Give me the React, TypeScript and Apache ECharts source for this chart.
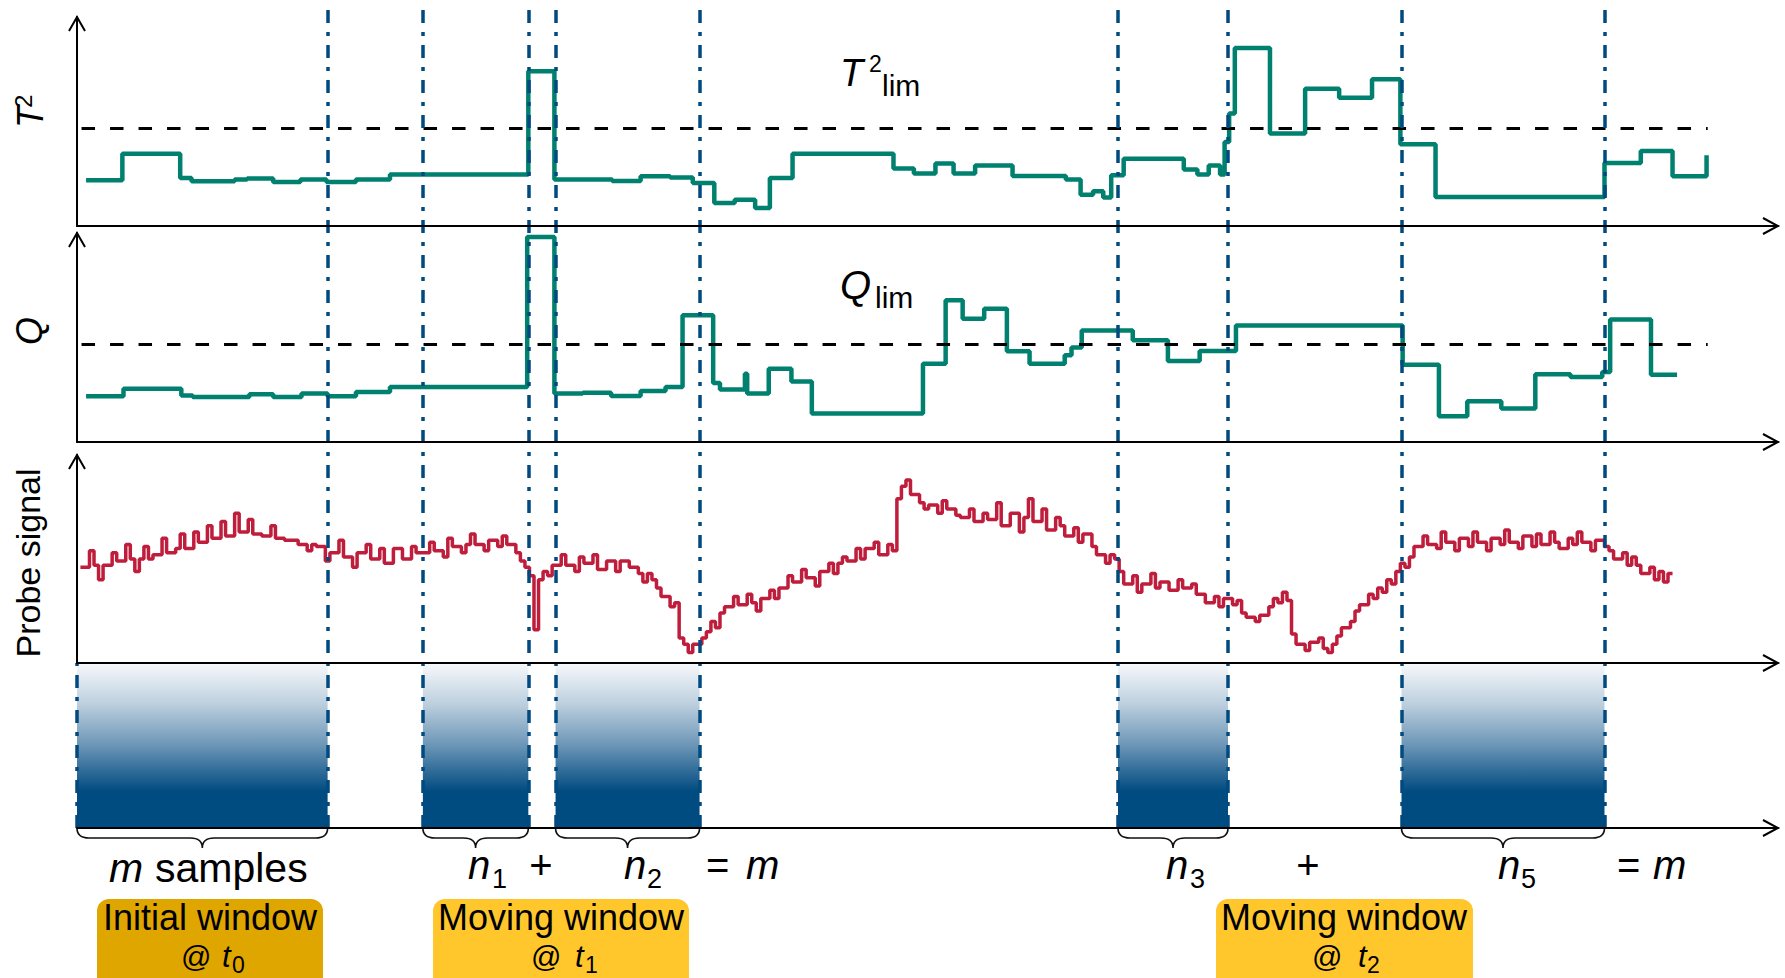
import React, { useEffect, useRef } from "react";
import * as echarts from "echarts";

const W = 1785;
const H = 978;
const X_MAX = 1500;

// Hotelling T² statistic: sample index where each new value starts, and the value
const t2Times = [8, 40, 91, 101, 139, 150, 173, 197, 220, 246, 276, 398, 421, 472, 497, 523, 543, 562, 580, 598, 611, 631, 720, 738, 757, 773, 792, 825, 872, 885, 896, 905, 912, 923, 976, 988, 998, 1008, 1012, 1016, 1021, 1052, 1083, 1113, 1142, 1167, 1198, 1347, 1379, 1407, 1437];
const t2Values = [21.9, 34.6, 23.0, 21.4, 22.2, 22.7, 21.1, 22.3, 21.1, 22.3, 24.7, 74.0, 22.3, 21.5, 23.8, 23.2, 20.6, 11.0, 12.6, 8.6, 23.0, 34.6, 27.5, 25.1, 29.9, 25.1, 29.0, 23.9, 22.3, 15.0, 16.6, 13.6, 24.3, 32.2, 27.0, 24.7, 29.0, 24.7, 40.2, 53.8, 85.2, 44.2, 65.7, 61.4, 70.2, 39.1, 13.9, 30.1, 35.9, 23.8, 33.8];
const t2Limit = 46.6;

// Q (squared prediction error) statistic
const qTimes = [8, 41, 92, 102, 152, 173, 198, 221, 246, 276, 397, 421, 446, 471, 497, 519, 534, 561, 567, 589, 591, 610, 630, 648, 746, 766, 781, 800, 820, 840, 871, 877, 886, 931, 962, 990, 1022, 1169, 1201, 1226, 1256, 1286, 1317, 1345, 1352, 1388, 1411];
const qValues = [21.9, 25.5, 22.3, 21.5, 22.8, 21.5, 23.2, 21.9, 23.9, 26.3, 98.1, 23.2, 23.6, 22.0, 24.4, 26.3, 60.6, 28.2, 25.1, 32.7, 23.2, 35.1, 29.0, 13.6, 37.5, 67.8, 59.0, 63.8, 43.4, 37.5, 41.5, 45.2, 53.4, 48.7, 38.8, 43.5, 55.8, 37.0, 12.3, 19.5, 16.0, 32.4, 31.1, 33.5, 58.6, 32.2, 32.2];
const qLimit = 46.6;

// span of the control-limit lines (sample index)
const limitSpan = [4, 1438];

// probe signal, one reading every probeStep samples from probeStart
const probeStart = 3;
const probeStep = 4;
const probeValues = [
  46, 46, 54, 47, 40, 47, 47, 53,
  49, 49, 57, 50, 44, 50, 56, 50,
  52, 52, 60, 53, 53,
  55, 62, 55, 55, 63,
  58, 58, 66, 60, 60, 68, 61, 61, 72, 63, 63, 69, 62, 62,
  61, 61, 66, 60, 60, 59,
  59, 59, 57, 57, 54, 57,
  56, 56, 49, 53, 53, 59, 51, 51, 46, 53, 53, 57, 50, 50, 55, 48, 48, 55, 55, 50, 50, 56, 53,
  53, 53, 58, 54, 54, 51, 60, 56, 56, 53, 57, 62, 57, 57, 54, 59, 59, 56, 61, 57, 57, 53,
  49, 46, 42,
  16,
  40, 44, 42,
  47, 47, 52, 47, 47, 44, 51, 48, 48, 52, 45, 45, 49, 49, 44, 49, 49, 46, 46,
  43, 39, 43, 40,
  36, 32, 32, 27, 29,
  12, 9, 5, 9, 9, 12,
  15, 20, 17, 24,
  27, 27, 32, 28, 28, 33, 29, 25, 31, 31, 35, 31,
  36, 36, 42, 39, 39, 45, 41, 41, 37, 44, 44, 48, 43,
  48, 51, 49, 49,
  55, 50, 55, 55, 58, 52, 52, 57, 54,
  79,
  85, 88, 81, 81, 77, 74,
  76, 76, 72, 78, 74, 74, 71,
  70, 70, 74, 68, 68, 72,
  69, 69, 77, 66, 66, 72, 72, 63, 70, 79, 68, 68, 74, 64, 64, 70,
  66, 61, 61, 65, 58, 62, 62,
  56, 52, 52, 48, 52, 50,
  44, 38, 38, 42, 34, 38, 38, 43, 36,
  39, 39, 35, 35, 40, 36, 36, 38,
  33, 33, 29, 29, 32, 27, 31, 31, 28, 30,
  24, 22, 22, 20, 23, 23,
  27, 31, 29, 34, 30,
  14, 9, 9, 6, 10, 10, 12, 7, 5, 9,
  13, 17, 17, 20,
  25, 28, 28, 33, 31, 36, 34, 40, 38,
  44, 48, 46, 51,
  56, 56, 61, 57, 57, 55, 63, 58, 58, 54, 60, 60, 56, 63, 58, 58, 54, 60, 60, 57,
  64, 58, 58, 55, 61, 61, 56, 62, 57, 57, 63, 58, 55, 55, 60, 57, 63, 58, 58, 54,
  59, 59, 56,
  54, 50, 50, 53, 47, 51,
  47, 43, 43, 46, 40, 44, 39, 43, 43,
];

// data windows used for the PCA model: [first sample, last sample]
const windows = [
  [0, 221],
  [305, 398],
  [422, 549],
  [918, 1015],
  [1168, 1347],
];

const TEAL = "#00806E";
const CRIMSON = "#BE1E3C";
const NAVY = "#004A7F";
const FONT = '"Liberation Sans", Arial, Helvetica, sans-serif';

const GRID_L = 77;
const GRID_R = 7;
const panels = [
  { top: 17, height: 209 }, // T²
  { top: 233, height: 209 }, // Q
  { top: 455, height: 208 }, // probe signal
  { top: 663, height: 165 }, // windows
  { top: 8, height: 820 }, // overlay for window boundaries
];

function txt(text: string, x: number, base: number, size: number, italic = false, align = "left") {
  return {
    type: "text",
    x,
    y: base - 0.35 * size,
    z: 100,
    silent: true,
    style: {
      text,
      fontSize: size,
      fontFamily: FONT,
      fontStyle: italic ? "italic" : "normal",
      fill: "#000",
      align,
      verticalAlign: "middle",
    },
  };
}

function chevronUp(x: number, y: number) {
  return {
    type: "polyline",
    z: 100,
    silent: true,
    shape: { points: [[x - 8, y + 14], [x, y], [x + 8, y + 14]] },
    style: { stroke: "#000", lineWidth: 2, fill: "none" },
  };
}

function chevronRight(x: number, y: number) {
  return {
    type: "polyline",
    z: 100,
    silent: true,
    shape: { points: [[x - 15, y - 8], [x, y], [x - 15, y + 8]] },
    style: { stroke: "#000", lineWidth: 2, fill: "none" },
  };
}

const windowGradient = {
  type: "linear",
  x: 0,
  y: 0,
  x2: 0,
  y2: 1,
  colorStops: [
    { offset: 0, color: "#f7f9fb" },
    { offset: 0.25, color: "#bccfde" },
    { offset: 0.5, color: "#6b95b6" },
    { offset: 0.78, color: "#004b80" },
    { offset: 1, color: "#004b80" },
  ],
};

export default function App() {
  const ref = useRef<HTMLDivElement>(null);

  useEffect(() => {
    if (!ref.current) return;
    const chart = echarts.init(ref.current, null, { renderer: "svg" });

    const xRight = W - GRID_R;
    const edges = windows.flat().filter((v) => v > 0);

    const dashDot = { color: NAVY, width: 3.5, type: [13, 9, 4, 9] };

    const graphic: any[] = [];
    // axis arrowheads
    for (let i = 0; i < 3; i++) {
      graphic.push(chevronUp(GRID_L, panels[i].top));
      graphic.push(chevronRight(xRight, panels[i].top + panels[i].height));
    }
    graphic.push(chevronRight(xRight, panels[3].top + panels[3].height));

    // y-axis titles
    graphic.push({
      type: "group",
      x: 30,
      y: 114,
      rotation: Math.PI / 2,
      children: [txt("T", -14, 12.6, 36, true), txt("2", 6, 2, 24)],
    });
    graphic.push({
      type: "group",
      x: 29,
      y: 331,
      rotation: Math.PI / 2,
      children: [txt("Q", 0, 12.6, 36, true, "center")],
    });
    graphic.push({
      type: "group",
      x: 28,
      y: 563,
      rotation: Math.PI / 2,
      children: [txt("Probe signal", 0, 11.9, 34, false, "center")],
    });

    // control-limit labels
    graphic.push(txt("T", 840, 86, 38, true), txt("2", 869, 72, 23), txt("lim", 882, 96, 30));
    graphic.push(txt("Q", 840, 299, 40, true), txt("lim", 875, 308, 30));

    // window size annotations
    graphic.push(txt("m", 109, 882, 41, true), txt("samples", 155, 882, 41));
    graphic.push(txt("n", 468, 879, 40, true), txt("1", 492, 888, 27));
    graphic.push(txt("+", 541, 879, 40, false, "center"));
    graphic.push(txt("n", 624, 879, 40, true), txt("2", 647, 888, 27));
    graphic.push(txt("=", 706, 879, 40), txt("m", 746, 879, 40, true));
    graphic.push(txt("n", 1166, 879, 40, true), txt("3", 1190, 888, 27));
    graphic.push(txt("+", 1308, 879, 40, false, "center"));
    graphic.push(txt("n", 1498, 879, 40, true), txt("5", 1521, 888, 27));
    graphic.push(txt("=", 1617, 879, 40), txt("m", 1653, 879, 40, true));

    // window tags
    const tag = (x: number, w: number, color: string) => ({
      type: "rect",
      z: 90,
      silent: true,
      shape: { x, y: 899, width: w, height: 100, r: [12, 12, 0, 0] },
      style: { fill: color },
    });
    graphic.push(tag(97, 226, "#E0A600"), tag(433, 256, "#FFC72C"), tag(1216, 257, "#FFC72C"));
    graphic.push(txt("Initial window", 210, 930, 36, false, "center"));
    graphic.push(txt("@", 181, 967, 30), txt("t", 222, 967, 31, true), txt("0", 232, 973, 23));
    graphic.push(txt("Moving window", 561, 930, 36, false, "center"));
    graphic.push(txt("@", 531, 967, 30), txt("t", 575, 967, 31, true), txt("1", 585, 973, 23));
    graphic.push(txt("Moving window", 1344, 930, 36, false, "center"));
    graphic.push(txt("@", 1312, 967, 30), txt("t", 1358, 967, 31, true), txt("2", 1367, 973, 23));

    const axisLineStyle = { color: "#000", width: 2 };

    const xAxis = panels.map((_, i) => ({
      type: "value",
      gridIndex: i,
      min: 0,
      max: X_MAX,
      show: i < 4,
      z: 5,
      axisLine: { show: i < 4, onZero: false, lineStyle: axisLineStyle },
      axisTick: { show: false },
      axisLabel: { show: false },
      splitLine: { show: false },
    }));
    const yAxis = panels.map((_, i) => ({
      type: "value",
      gridIndex: i,
      min: 0,
      max: 100,
      show: i < 3,
      z: 5,
      axisLine: { show: i < 3, onZero: false, lineStyle: axisLineStyle },
      axisTick: { show: false },
      axisLabel: { show: false },
      splitLine: { show: false },
    }));

    const limitLine = (idx: number, value: number) => ({
      type: "line",
      xAxisIndex: idx,
      yAxisIndex: idx,
      symbol: "none",
      silent: true,
      z: 4,
      data: [
        [limitSpan[0], value],
        [limitSpan[1], value],
      ],
      lineStyle: { color: "#000", width: 3, type: [13.5, 15] },
    });

    const option: any = {
      animation: false,
      backgroundColor: "#fff",
      grid: panels.map((p) => ({ left: GRID_L, right: GRID_R, top: p.top, height: p.height })),
      xAxis,
      yAxis,
      graphic,
      series: [
        {
          type: "line",
          name: "T2",
          xAxisIndex: 0,
          yAxisIndex: 0,
          step: "end",
          symbol: "none",
          silent: true,
          z: 3,
          data: t2Times.map((t, i) => [t, t2Values[i]]),
          lineStyle: { color: TEAL, width: 4.5 },
        },
        limitLine(0, t2Limit),
        {
          type: "line",
          name: "Q",
          xAxisIndex: 1,
          yAxisIndex: 1,
          step: "end",
          symbol: "none",
          silent: true,
          z: 3,
          data: qTimes.map((t, i) => [t, qValues[i]]),
          lineStyle: { color: TEAL, width: 4.5 },
        },
        limitLine(1, qLimit),
        {
          type: "line",
          name: "Probe signal",
          xAxisIndex: 2,
          yAxisIndex: 2,
          step: "end",
          symbol: "none",
          silent: true,
          z: 3,
          data: probeValues.map((v, i) => [probeStart + i * probeStep, v]),
          lineStyle: { color: CRIMSON, width: 3.5 },
        },
        {
          type: "custom",
          name: "Windows",
          xAxisIndex: 3,
          yAxisIndex: 3,
          silent: true,
          z: 1,
          data: windows,
          renderItem: (params: any, api: any) => {
            const x0 = api.coord([api.value(0), 0])[0];
            const x1 = api.coord([api.value(1), 0])[0];
            const cs = params.coordSys;
            const yb = cs.y + cs.height;
            const ym = yb + 10;
            const yt = yb + 20;
            const xm = (x0 + x1) / 2;
            const d =
              `M${x0} ${yb} Q${x0} ${ym} ${x0 + 12} ${ym} L${xm - 12} ${ym} ` +
              `Q${xm} ${ym} ${xm} ${yt} Q${xm} ${ym} ${xm + 12} ${ym} ` +
              `L${x1 - 12} ${ym} Q${x1} ${ym} ${x1} ${yb}`;
            return {
              type: "group",
              children: [
                {
                  type: "rect",
                  shape: { x: x0, y: cs.y, width: x1 - x0, height: cs.height },
                  style: { fill: windowGradient },
                },
                {
                  type: "path",
                  shape: { pathData: d },
                  style: { fill: "none", stroke: "#111", lineWidth: 1.6 },
                },
              ],
            };
          },
        },
        {
          type: "line",
          xAxisIndex: 3,
          yAxisIndex: 3,
          data: [],
          silent: true,
          z: 10,
          markLine: {
            silent: true,
            symbol: ["none", "none"],
            label: { show: false },
            lineStyle: dashDot,
            data: [{ xAxis: 0 }],
          },
        },
        {
          type: "line",
          xAxisIndex: 4,
          yAxisIndex: 4,
          data: [],
          silent: true,
          z: 10,
          markLine: {
            silent: true,
            symbol: ["none", "none"],
            label: { show: false },
            lineStyle: dashDot,
            data: edges.map((e) => ({ xAxis: e })),
          },
        },
      ],
    };

    chart.setOption(option);
    return () => chart.dispose();
  }, []);

  return (
    <div
      ref={ref}
      style={{ position: "absolute", left: 0, top: 0, width: W, height: H, background: "#fff" }}
    />
  );
}
